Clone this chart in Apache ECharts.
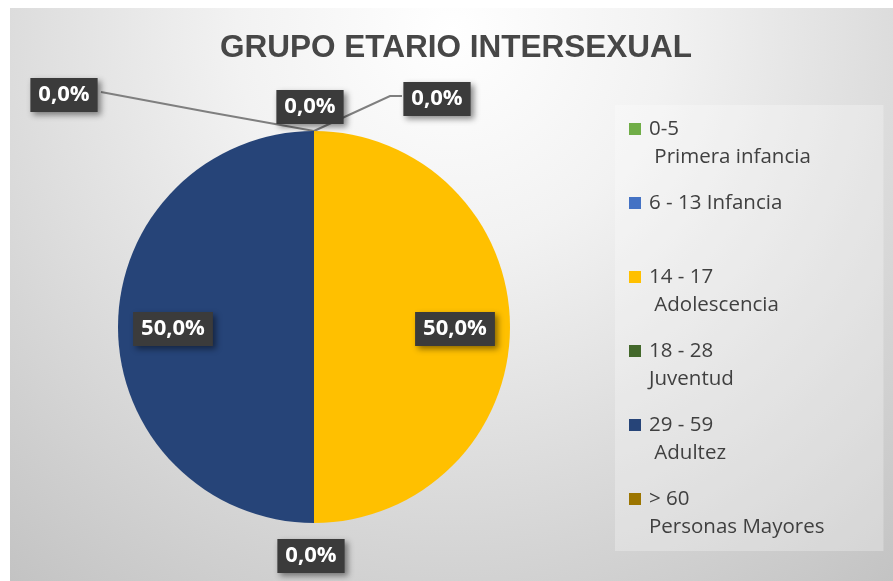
<!DOCTYPE html>
<html>
<head>
<meta charset="utf-8">
<script src="https://cdn.jsdelivr.net/npm/echarts@6/dist/echarts.min.js"></script>
<style>
  html, body { margin: 0; padding: 0; background: #ffffff; }
  #chart { position: absolute; left: 10px; top: 8px; width: 883px; height: 573px; }
</style>
</head>
<body>
<div id="chart"></div>
<script>
// categories and values
var categories = ['0-5\n Primera infancia', '6 - 13 Infancia', '14 - 17\n Adolescencia', '18 - 28\nJuventud', '29 - 59\n Adultez', '> 60\nPersonas Mayores'];
var values = [0, 0, 1, 0, 1, 0];
var colors = ['#70ad47', '#4472c4', '#ffc000', '#43682b', '#264478', '#9c7500'];

// pie geometry
var cx = 304, cy = 319, r = 196;

// where each percentage box sits, relative to the pie centre (layout only)
var labelSpots = [
  { dx: -4, dy: -220, line: null },
  { dx: 123, dy: -228, line: [[0, -r], [76, -231], [88, -231]] },
  { dx: 141, dy: 2, line: null },
  { dx: -3, dy: 229, line: null },
  { dx: -141, dy: 2, line: null },
  { dx: -250, dy: -232, line: [[0, -r], [-106, -215], [-213, -235]] }
];

var chart = echarts.init(document.getElementById('chart'));

var data = categories.map(function (name, i) {
  return {
    name: name,
    value: values[i],
    itemStyle: { color: colors[i] },
    labelLine: { show: !!labelSpots[i].line }
  };
});

var option = {
  backgroundColor: {
    type: 'radial', x: 0.5, y: 0.04, r: 1.25,
    colorStops: [
      { offset: 0, color: '#ffffff' },
      { offset: 0.3, color: '#f2f2f2' },
      { offset: 1, color: '#c2c2c2' }
    ]
  },
  title: {
    text: 'GRUPO ETARIO INTERSEXUAL',
    left: 446,
    textAlign: 'center',
    top: 24,
    padding: 0,
    textStyle: {
      fontFamily: '"Liberation Sans Narrow", "Liberation Sans", Arial',
      fontWeight: 'bold',
      fontSize: 31.5,
      color: '#474747'
    }
  },
  legend: {
    orient: 'vertical',
    left: 605,
    top: 97,
    padding: [10, 59, 10, 14],
    backgroundColor: 'rgba(255,255,255,0.28)',
    itemGap: 18,
    itemWidth: 15,
    itemHeight: 56,
    icon: 'path://M0,0L0.01,0M0,8h12v12h-12zM15,56L14.99,56',
    itemStyle: { borderWidth: 0 },
    selectedMode: false,
    formatter: function (name) {
      return name.indexOf('\n') >= 0 ? name : name + '\n ';
    },
    textStyle: {
      fontFamily: '"Open Sans", "Noto Sans", sans-serif',
      fontSize: 20.5,
      lineHeight: 28,
      color: '#404040',
      padding: [0, 0, 0, 0]
    },
    data: categories
  },
  series: [{
    type: 'pie',
    center: [cx, cy],
    radius: [0, r],
    startAngle: 90,
    clockwise: true,
    avoidLabelOverlap: false,
    stillShowZeroSum: true,
    itemStyle: { borderWidth: 0 },
    emphasis: { disabled: true },
    label: {
      show: true,
      position: 'outside',
      formatter: function (p) {
        return p.percent.toFixed(1).replace('.', ',') + '%';
      },
      fontFamily: '"Open Sans", "Noto Sans", sans-serif',
      fontWeight: 'bold',
      fontSize: 22,
      color: '#ffffff',
      backgroundColor: '#3b3b3b',
      padding: [7, 8, 5, 8],
      shadowBlur: 6,
      shadowColor: 'rgba(0,0,0,0.45)',
      shadowOffsetX: 3,
      shadowOffsetY: 3
    },
    labelLine: {
      show: true,
      lineStyle: { color: '#7f7f7f', width: 2 }
    },
    labelLayout: function (p) {
      var s = labelSpots[p.dataIndex];
      var out = {
        x: cx + s.dx,
        y: cy + s.dy,
        align: 'center',
        verticalAlign: 'middle'
      };
      if (s.line) {
        out.labelLinePoints = s.line.map(function (pt) {
          return [cx + pt[0], cy + pt[1]];
        });
      }
      return out;
    },
    data: data
  }]
};

chart.setOption(option);
</script>
</body>
</html>
